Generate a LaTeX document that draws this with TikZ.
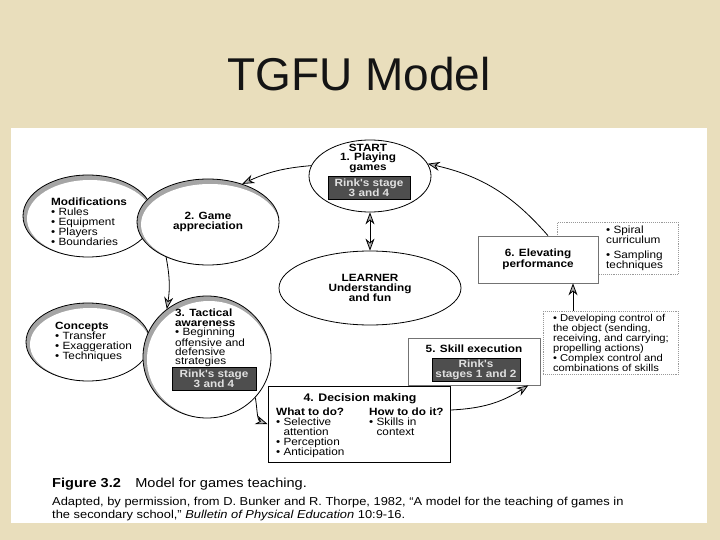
\documentclass[tikz,border=0pt]{standalone}
\usepackage{fontspec}
\usetikzlibrary{positioning,arrows.meta,shapes.geometric}
\newfontfamily\scanfont[FakeStretch=1.12]{Liberation Sans}
\newfontfamily\titlefont{Liberation Sans}
\definecolor{parchment}{RGB}{233,222,188}
\definecolor{rinkgray}{RGB}{78,78,78}
\definecolor{rimgray}{RGB}{165,165,165}

\begin{document}
\begin{tikzpicture}[x=1pt, y=-1pt,
    every node/.style={font=\scanfont\fontsize{10.5}{10}\selectfont, inner sep=0pt, align=left},
    oval/.style={ellipse, draw=black, line width=0.8pt, fill=white, align=center,
                 font=\scanfont\bfseries\fontsize{10.5}{10}\selectfont},
    rim/.style 2 args={oval, minimum width=#1, minimum height=#2, fill=rimgray,
                 path picture={\fill[white] ([shift={(2pt,-2.5pt)}]path picture bounding box.center)
                 ellipse [x radius=#1/2-2pt, y radius=#2/2-2.5pt];}},
    rink/.style={rectangle, draw=black, fill=rinkgray, text=white!88!black, align=center,
                 font=\scanfont\bfseries\fontsize{10.5}{10}\selectfont,
                 minimum width=#1, inner ysep=2.5pt},
    stagebox/.style={rectangle, draw=black!55, line width=0.7pt, fill=white, align=center},
    note/.style={rectangle, draw=black!40, densely dotted, line width=0.9pt, fill=white},
    arr/.style={-{Stealth[length=12pt, width=9pt, fill=gray!60]}, line width=0.8pt},
    dbl/.style={{Stealth[length=12pt, width=9pt, fill=gray!60]}-{Stealth[length=12pt, width=9pt, fill=gray!60]},
                line width=0.8pt}
]
\useasboundingbox (0,0) rectangle (720,540);
\fill[parchment] (0,0) rectangle (720,540);
\fill[white] (11,128) rectangle (707,523);
\node[font=\titlefont\fontsize{46}{46}\selectfont, text=black!92] (title) at (359,74) {TGFU Model};

\node[oval, minimum width=122pt, minimum height=72pt] (start) at (370,176) {};
\node[font=\scanfont\bfseries\fontsize{10.5}{9.5}\selectfont, align=center] (starttxt) at (368,158) {START\\1. Playing\\games};
\node[rink=82pt] (startrink) at (369,188) {Rink's stage\\3 and 4};

\node[rim={130pt}{82pt}] (mods) at (88,216) {};
\node[anchor=west] (modstxt) at (51,222) {\textbf{Modifications}\\• Rules\\• Equipment\\• Players\\• Boundaries};
\node[rim={142pt}{86pt}] (game) at (208,222) {2. Game\\appreciation};

\node[oval, minimum width=182pt, minimum height=74pt] (learner) at (370,288) {LEARNER\\Understanding\\and fun};

\node[rim={124pt}{78pt}] (concepts) at (88,342) {};
\node[anchor=west] (conceptstxt) at (55,342) {\textbf{Concepts}\\• Transfer\\• Exaggeration\\• Techniques};
\node[rim={128pt}{122pt}] (tact) at (207,357) {};
\node[anchor=north west, font=\scanfont\fontsize{10.5}{9.3}\selectfont] (tacttxt) at (175,309) {\textbf{3. Tactical}\\\textbf{awareness}\\• Beginning\\offensive and\\defensive\\strategies};
\node[rink=84pt] (tactrink) at (214,379) {Rink's stage\\3 and 4};

\node[rectangle, draw=black, line width=1pt, fill=white, minimum width=182pt, minimum height=76pt] (dec) at (359,424) {};
\node[font=\scanfont\bfseries\fontsize{11}{11}\selectfont] (dectitle) at (360,399) {4. Decision making};
\node[anchor=north west] (what) at (276,408) {\textbf{What to do?}\\• Selective\\\phantom{• }attention\\• Perception\\• Anticipation};
\node[anchor=north west] (how) at (369,408) {\textbf{How to do it?}\\• Skills in\\\phantom{• }context};

\node[stagebox, minimum width=132pt, minimum height=47pt] (skill) at (474,361.5) {};
\node[font=\scanfont\bfseries\fontsize{10.5}{10}\selectfont] (skilltitle) at (474,349) {5. Skill execution};
\node[rink=88pt, inner ysep=1.5pt] (skillrink) at (476,370) {Rink's\\stages 1 and 2};
\node[note, anchor=north west, minimum width=135pt, inner xsep=4pt, inner ysep=3pt,
      font=\scanfont\fontsize{10}{10}\selectfont] (skilldetail) at (543,311)
      {• Developing control of\\the object (sending,\\receiving, and carrying;\\propelling actions)\\• Complex control and\\combinations of skills};

\node[note, anchor=north west, minimum width=121pt, minimum height=52pt] (spiral) at (557,222) {};
\node[anchor=west] (spiraltxt) at (606,248) {• Spiral\\curriculum\\[5pt]• Sampling\\techniques};
\node[stagebox, minimum width=120pt, minimum height=47pt, font=\scanfont\bfseries\fontsize{10.5}{10.5}\selectfont] (elev) at (538,259.5) {6. Elevating\\performance};

\draw[arr] (start.170) to[bend right=10] (game.48);
\draw[arr] ([xshift=10pt]elev.north) to[bend right=18] (start.12);
\draw[dbl] (start) -- (learner);
\draw[arr] (game.220) to[bend left=10] (tact.130);
\draw[arr] (tact.-40) to[out=-80, in=160] (dec.west);
\draw[arr] ([yshift=14pt]dec.east) to[bend right=15] ([xshift=-12pt]skill.south east);
\draw[arr] ([xshift=30pt]skilldetail.north west) -- ([xshift=30pt]skilldetail.north west |- elev.south);

\node[anchor=west, font=\scanfont\fontsize{13}{13}\selectfont] (figcap) at (52,484) {\textbf{Figure 3.2}\hspace{1.1em}Model for games teaching.};
\node[anchor=north west, font=\scanfont\fontsize{11.5}{13}\selectfont] (source) at (52,497)
     {Adapted, by permission, from D. Bunker and R. Thorpe, 1982, “A model for the teaching of games in\\the secondary school,” \textit{Bulletin of Physical Education} 10:9-16.};
\end{tikzpicture}
\end{document}
